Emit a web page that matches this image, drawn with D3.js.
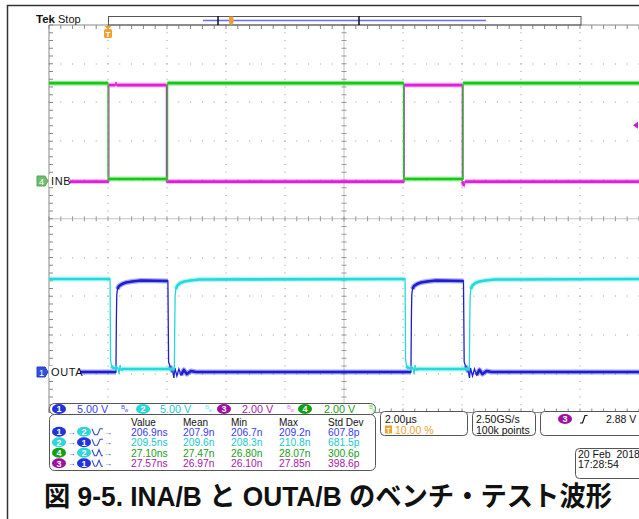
<!DOCTYPE html>
<html><head><meta charset="utf-8">
<script src="https://cdn.jsdelivr.net/npm/d3@7"></script>
<style>body{margin:0;background:#fff}svg{display:block;font-family:"Liberation Sans",Arial,sans-serif}</style>
</head><body><svg id="c" width="639" height="519"></svg>
<script>
// ---------- DATA ----------
// time axis in µs (2 µs/div, trigger at 0, 10 % position)
const timeDomain = [-2, 18];
// CH4 (green) INB, 2 V/div
const inbT = [-2, 0.0, 0.0, 2.02, 2.02, 10.02, 10.02, 12.04, 12.04, 18];
const inbV = [5.05, 5.05, 0.1, 0.1, 5.05, 5.05, 0.1, 0.1, 5.05, 5.05];
// CH3 (magenta) INA, 2 V/div
const inaT = [-1.33, 0.03, 0.03, 0.25, 0.27, 0.29, 1.98, 1.98, 10.04, 10.04, 12.01, 12.01, 12.07, 12.1, 18];
const inaV = [-0.03, -0.03, 4.95, 4.95, 5.12, 4.95, 4.95, -0.03, -0.03, 4.95, 4.95, -0.03, -0.25, -0.03, -0.03];
// CH1 (blue) OUTA, 5 V/div
const outaT = [-0.95, 0.27, 0.27, 0.284, 0.297, 0.321, 0.372, 0.473, 0.609, 0.812, 1.117, 2.03,
  2.054, 2.098, 2.149, 2.199, 2.233, 2.267, 2.335, 2.403, 2.471, 2.572, 2.674, 2.81, 2.979,
  10.27, 10.27, 10.284, 10.297, 10.321, 10.372, 10.473, 10.609, 10.812, 11.117, 12.05,
  12.074, 12.118, 12.169, 12.219, 12.253, 12.287, 12.355, 12.423, 12.491, 12.592, 12.694, 12.83, 12.999, 18];
const outaV = [0, 0, 0.3, 6.71, 9.94, 10.71, 11.10, 11.35, 11.55, 11.68, 11.81, 11.75,
  1.29, 0.77, 0.39, 0, -0.77, 0.52, -0.52, 0.39, -0.39, 0.26, -0.26, 0.13, 0,
  0, 0.3, 6.71, 9.94, 10.71, 11.10, 11.35, 11.55, 11.68, 11.81, 11.75,
  1.29, 0.77, 0.39, 0, -0.77, 0.52, -0.52, 0.39, -0.39, 0.26, -0.26, 0.13, 0, 0];
// CH2 (cyan) OUTB, 5 V/div
const outbT = [-2, 0.07, 0.087, 0.121, 0.172, 0.34, 0.375, 0.41, 0.44, 0.5, 2.25,
  2.264, 2.277, 2.301, 2.352, 2.453, 2.589, 2.792, 3.097, 10.07,
  10.087, 10.121, 10.172, 10.34, 10.375, 10.41, 10.44, 10.5, 12.25,
  12.264, 12.277, 12.301, 12.352, 12.453, 12.589, 12.792, 13.097, 18];
const outbV = [11.74, 11.74, 1.29, 0.52, 0.26, 0.26, -0.52, 0.65, 0.0, 0.13, 0.13,
  6.45, 9.55, 10.45, 10.90, 11.23, 11.42, 11.55, 11.68, 11.74,
  1.29, 0.52, 0.26, 0.26, -0.52, 0.65, 0.0, 0.13, 0.13,
  6.45, 9.55, 10.45, 10.90, 11.23, 11.42, 11.55, 11.68, 11.74];

// legend / readouts
const chIds = ["1", "2", "3", "4"];
const chScale = ["5.00 V", "5.00 V", "2.00 V", "2.00 V"];
const measHeaders = ["Value", "Mean", "Min", "Max", "Std Dev"];
const measFrom = ["1", "2", "4", "3"];
const measTo = ["2", "1", "2", "1"];
const measEdge = ["fr", "fr", "ff", "ff"];
const measValue = ["206.9ns", "209.5ns", "27.10ns", "27.57ns"];
const measMean = ["207.9n", "209.6n", "27.47n", "26.97n"];
const measMin = ["206.7n", "208.3n", "26.80n", "26.10n"];
const measMax = ["209.2n", "210.8n", "28.07n", "27.85n"];
const measStd = ["607.8p", "681.5p", "300.6p", "398.6p"];
const horizScale = "2.00µs", trigPos = "10.00 %", sampleRate = "2.50GS/s", recLen = "100k points";
const trigSource = "3", trigLevel = "2.88 V";
const dateStr = "20 Feb  2018", timeStr = "17:28:54";
const caption = "図 9-5. INA/B と OUTA/B のベンチ・テスト波形";

// ---------- STYLE ----------
const traceCol = {"1": "#1e1ed0", "2": "#22dada", "3": "#e020d8", "4": "#18c818"};
const haloCol = {"1": "#4a4af0", "2": "#70eeee", "3": "#f070ee", "4": "#50e050"};
const textCol = {"1": "#3c3cf0", "2": "#20caca", "3": "#a818a8", "4": "#18a018"};
const pillCol = {"1": "#2233dd", "2": "#2cd6d6", "3": "#a010a0", "4": "#12a012"};

const svg = d3.select("#c");
const gL = 49, gR = 639, gT = 25, gB = 412.5;
const x = d3.scaleLinear().domain(timeDomain).range([gL, gR]);
const gy = d3.scaleLinear().domain([5, -5]).range([gT, gB]); // divisions
const divH = (gB - gT) / 10;
const yIn = d3.scaleLinear().domain([0, 2]).range([181, 181 - divH]);
const yOutA = d3.scaleLinear().domain([0, 5]).range([372, 372 - divH]);
const yOutB = d3.scaleLinear().domain([0, 5]).range([370, 370 - divH]);

// outer frame
svg.append("path").attr("d", "M7.5,519 V5.5 H639").attr("fill", "none").attr("stroke", "#333").attr("stroke-width", 1.5);

// ---------- GRATICULE ----------
const grid = svg.append("g");
const xt = d3.range(-2, 18.01, 0.4);
const yt = d3.range(-5, 5.01, 0.2);
for (let k = 1; k < 10; k++) {
  const t = timeDomain[0] + 2 * k;
  if (k === 5) continue;
  yt.forEach(v => grid.append("rect").attr("x", Math.round(x(t)) - 0.5).attr("y", gy(v) - 0.5).attr("width", 1).attr("height", 1).attr("fill", "#999"));
}
for (let k = -4; k <= 4; k++) {
  if (k === 0) continue;
  xt.forEach(t => grid.append("rect").attr("x", x(t) - 0.5).attr("y", Math.round(gy(k)) - 0.5).attr("width", 1).attr("height", 1).attr("fill", "#999"));
}
grid.append("line").attr("x1", gL).attr("x2", gR).attr("y1", gy(0)).attr("y2", gy(0)).attr("stroke", "#c4c4c4");
grid.append("line").attr("x1", x(8)).attr("x2", x(8)).attr("y1", gT).attr("y2", gB).attr("stroke", "#c4c4c4");
xt.forEach(t => grid.append("line").attr("x1", x(t)).attr("x2", x(t)).attr("y1", gy(0) - 2.5).attr("y2", gy(0) + 2.5).attr("stroke", "#999"));
yt.forEach(v => grid.append("line").attr("x1", x(8) - 2.5).attr("x2", x(8) + 2.5).attr("y1", gy(v)).attr("y2", gy(v)).attr("stroke", "#999"));
grid.append("path").attr("d", `M${gL},${gB} V${gT} H${gR}`).attr("fill", "none").attr("stroke", "#888");
grid.append("line").attr("x1", gL).attr("x2", gR).attr("y1", gB).attr("y2", gB).attr("stroke", "#888");
xt.forEach(t => {
  grid.append("line").attr("x1", x(t)).attr("x2", x(t)).attr("y1", gT).attr("y2", gT + 4).attr("stroke", "#888");
  grid.append("line").attr("x1", x(t)).attr("x2", x(t)).attr("y1", gB).attr("y2", gB - 4).attr("stroke", "#888");
});
yt.forEach(v => grid.append("line").attr("x1", gL).attr("x2", gL + 4).attr("y1", gy(v)).attr("y2", gy(v)).attr("stroke", "#888"));

// ---------- TRACES ----------
const traces = svg.append("g");
function drawTrace(T, V, y, ch) {
  const pts = T.map((t, i) => [x(t), y(V[i])]);
  traces.append("path").attr("d", d3.line()(pts)).attr("fill", "none")
    .attr("stroke", traceCol[ch]).attr("stroke-width", 1.3);
  let run = [pts[0]];
  const runs = [];
  for (let i = 1; i < pts.length; i++) {
    const dx = pts[i][0] - pts[i - 1][0], dy = Math.abs(pts[i][1] - pts[i - 1][1]);
    if (dx > 0.3 && dy < 2.5 * dx + 0.5) run.push(pts[i]);
    else { if (run.length > 1) runs.push(run); run = [pts[i]]; }
  }
  if (run.length > 1) runs.push(run);
  runs.forEach(r => {
    traces.append("path").attr("d", d3.line()(r)).attr("fill", "none").attr("stroke", haloCol[ch])
      .attr("stroke-width", 5).attr("stroke-opacity", 0.5).attr("stroke-linejoin", "round");
    traces.append("path").attr("d", d3.line()(r)).attr("fill", "none").attr("stroke", traceCol[ch])
      .attr("stroke-width", 2.6).attr("stroke-linejoin", "round");
  });
}
drawTrace(inaT, inaV, yIn, "3");
drawTrace(inbT, inbV, yIn, "4");
drawTrace(outaT, outaV, yOutA, "1");
drawTrace(outbT, outbV, yOutB, "2");

function chMarker(cy, ch, fill, label, lw) {
  svg.append("rect").attr("x", gL).attr("y", cy - 6).attr("width", lw).attr("height", 12).attr("fill", "#fff");
  svg.append("path").attr("d", `M37,${cy - 5} H45 L48,${cy} L45,${cy + 5} H37 Z`).attr("fill", fill).attr("stroke", d3.color(fill).darker(0.5));
  svg.append("text").attr("x", 41.5).attr("y", cy + 3.5).attr("text-anchor", "middle").attr("font-size", 9).attr("fill", "#fff").text(ch);
  svg.append("text").attr("x", gL + 2).attr("y", cy + 4).attr("font-size", 11).attr("letter-spacing", 0.6).attr("fill", "#111").text(label);
}
chMarker(yIn(0), "4", "#6cbf6c", "INB", 21);
chMarker(yOutA(0), "1", "#3050e0", "OUTA", 31);

svg.append("path").attr("d", `M633,${yIn(2.88)} L638,${yIn(2.88) - 3.5} L638,${yIn(2.88) + 3.5} Z`).attr("fill", "#c020c0");

// ---------- TOP ----------
svg.append("text").attr("x", 36).attr("y", 23).attr("font-size", 11.5).attr("font-weight", "bold").attr("fill", "#111").text("Tek");
svg.append("text").attr("x", 58).attr("y", 23).attr("font-size", 11).attr("fill", "#111").text("Stop");
svg.append("rect").attr("x", 108.5).attr("y", 16.5).attr("width", 472.5).attr("height", 8.5).attr("fill", "none").attr("stroke", "#555");
svg.append("line").attr("x1", 203).attr("x2", 486).attr("y1", 20.5).attr("y2", 20.5).attr("stroke", "#6a6aff").attr("stroke-width", 1.4);
[218, 359].forEach(xx => svg.append("line").attr("x1", xx).attr("x2", xx).attr("y1", 16).attr("y2", 25).attr("stroke", "#111").attr("stroke-width", 1.5));
svg.append("path").attr("d", "M229,16.5 H233.5 V23 L231.2,25 L229,23 Z").attr("fill", "#f0a030");
const tx = x(0);
svg.append("path").attr("d", `M${tx - 3.5},26 H${tx + 3.5} L${tx},29.5 Z`).attr("fill", "#f0a030");
svg.append("rect").attr("x", tx - 4).attr("y", 29).attr("width", 8).attr("height", 9).attr("rx", 1.5).attr("fill", "#f0a030");
svg.append("text").attr("x", tx).attr("y", 36.5).attr("text-anchor", "middle").attr("font-size", 8).attr("font-weight", "bold").attr("fill", "#fff").text("T");

// ---------- BOTTOM READOUTS ----------
const bot = svg.append("g");
function pill(cx, cy, ch) {
  bot.append("ellipse").attr("cx", cx).attr("cy", cy).attr("rx", 7).attr("ry", 5).attr("fill", pillCol[ch]);
  bot.append("text").attr("x", cx).attr("y", cy + 3.3).attr("text-anchor", "middle").attr("font-size", 9).attr("font-weight", "bold").attr("fill", "#fff").text(ch);
}
bot.append("rect").attr("x", 49.5).attr("y", 403.5).attr("width", 326).attr("height", 11).attr("rx", 5).attr("fill", "#fff").attr("stroke", "#555");
bot.append("rect").attr("x", 49.5).attr("y", 414.5).attr("width", 326).attr("height", 56).attr("rx", 5).attr("fill", "#fff").attr("stroke", "#555");
const pillX = [59, 143, 224, 305], scaleX = [77, 160, 242, 324], bwX = [121, 205, 287, 369];
chIds.forEach((ch, i) => {
  pill(pillX[i], 409, ch);
  bot.append("text").attr("x", scaleX[i]).attr("y", 413).attr("font-size", 10.8).attr("fill", textCol[ch]).text(chScale[i]);
  bot.append("text").attr("x", bwX[i]).attr("y", 409).attr("font-size", 6).attr("fill", haloCol[ch]).text("B");
  bot.append("text").attr("x", bwX[i] + 3.5).attr("y", 412).attr("font-size", 5).attr("fill", haloCol[ch]).text("w");
});
const colX = [131, 183, 231, 279, 328];
const rowY = [435.5, 446, 456.5, 467];
measHeaders.forEach((h, j) => bot.append("text").attr("x", colX[j]).attr("y", 425.5).attr("font-size", 10).attr("fill", "#111").text(h));
const cols = [measValue, measMean, measMin, measMax, measStd];
measFrom.forEach((f, i) => {
  const cy = rowY[i] - 3.7;
  pill(59, cy, f);
  bot.append("text").attr("x", 67.5).attr("y", cy + 3).attr("font-size", 8).attr("fill", "#2040c0").text("→");
  pill(84, cy, measTo[i]);
  const ic = measEdge[i] === "fr"
    ? `M92,${cy - 3} L94.5,${cy + 3} H97.5 L100,${cy - 3} H103`
    : `M92,${cy - 3} L94.5,${cy + 3} H96.5 L99,${cy - 3} L101.5,${cy + 3} H103`;
  bot.append("path").attr("d", ic).attr("fill", "none").attr("stroke", "#3050c8").attr("stroke-width", 1.1);
  bot.append("text").attr("x", 104).attr("y", cy + 3).attr("font-size", 8).attr("fill", "#2040c0").text("→");
  cols.forEach((c, j) => bot.append("text").attr("x", colX[j]).attr("y", rowY[i]).attr("font-size", 10.3).attr("fill", textCol[f]).text(c[i]));
});
bot.append("rect").attr("x", 380.5).attr("y", 411.5).attr("width", 87).attr("height", 24).attr("rx", 4).attr("fill", "#fff").attr("stroke", "#555");
bot.append("text").attr("x", 385).attr("y", 423).attr("font-size", 10.5).attr("fill", "#111").text(horizScale);
bot.append("rect").attr("x", 385).attr("y", 425.5).attr("width", 7).attr("height", 8).attr("fill", "#f0a030");
bot.append("text").attr("x", 388.5).attr("y", 432.5).attr("text-anchor", "middle").attr("font-size", 7).attr("font-weight", "bold").attr("fill", "#fff").text("T");
bot.append("text").attr("x", 395).attr("y", 433.5).attr("font-size", 10.5).attr("fill", "#f0a030").text(trigPos);
bot.append("rect").attr("x", 472.5).attr("y", 411.5).attr("width", 63).attr("height", 24).attr("rx", 4).attr("fill", "#fff").attr("stroke", "#555");
bot.append("text").attr("x", 476).attr("y", 423).attr("font-size", 10.5).attr("fill", "#111").text(sampleRate);
bot.append("text").attr("x", 476).attr("y", 433.5).attr("font-size", 10.5).attr("fill", "#111").text(recLen);
bot.append("rect").attr("x", 540.5).attr("y", 411.5).attr("width", 110).attr("height", 24).attr("rx", 4).attr("fill", "#fff").attr("stroke", "#555");
pill(565, 419, trigSource);
bot.append("path").attr("d", "M580,423 H582.5 L585,415.5 H587.5").attr("fill", "none").attr("stroke", "#111").attr("stroke-width", 1.2);
bot.append("text").attr("x", 606).attr("y", 423).attr("font-size", 10.5).attr("fill", "#111").text(trigLevel);
bot.append("rect").attr("x", 575.5).attr("y", 448.5).attr("width", 80).attr("height", 30).attr("rx", 4).attr("fill", "#fff").attr("stroke", "#555");
bot.append("text").attr("x", 578).attr("y", 457.5).attr("font-size", 10.5).attr("fill", "#111").style("white-space", "pre").text(dateStr);
bot.append("text").attr("x", 578).attr("y", 468).attr("font-size", 10.5).attr("fill", "#111").text(timeStr);

// caption
svg.append("text").attr("x", 44).attr("y", 506).attr("font-size", 27.5).attr("font-weight", "bold")
  .attr("font-family", "'Liberation Sans', Arial, 'Noto Sans CJK JP', sans-serif")
  .attr("textLength", 568).attr("lengthAdjust", "spacingAndGlyphs").attr("fill", "#111").text(caption);
</script></body></html>
